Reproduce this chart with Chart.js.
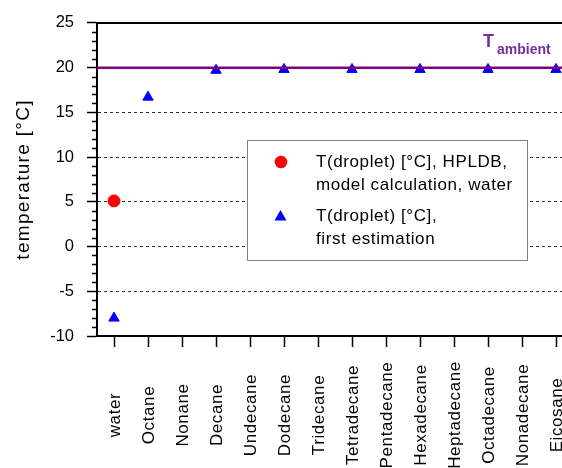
<!DOCTYPE html>
<html><head><meta charset="utf-8">
<script src="https://cdn.jsdelivr.net/npm/chart.js@4.4.1/dist/chart.umd.min.js"></script>
<style>html,body{margin:0;padding:0;overflow:hidden;background:#fff;width:562px;height:468px}canvas{display:block}</style>
</head><body><canvas id="c" width="580" height="468"></canvas>
<script>
const categories = ['water','Octane','Nonane','Decane','Undecane','Dodecane','Tridecane','Tetradecane','Pentadecane','Hexadecane','Heptadecane','Octadecane','Nonadecane','Eicosane'];
const dropletHPLDB = [5.1, null, null, null, null, null, null, null, null, null, null, null, null, null];
const dropletEstimate = [-8, 16.7, null, 19.7, null, 19.8, null, 19.8, null, 19.8, null, 19.8, null, 19.8];
const ambientTemperature = 20;
const yMin = -10, yMax = 25, yStep = 5, yMinorStep = 1;
const yTitle = 'temperature [°C]';
const legendLabels = [['T(droplet) [°C], HPLDB,', 'model calculation, water'], ['T(droplet) [°C],', 'first estimation']];
const ambientLabel = ['T', 'ambient'];

const FAMILY = "'Liberation Sans', Arial, sans-serif";
const RED = '#ff0000', BLUE = '#0000ff', PURPLE_LINE = '#800080', PURPLE_TEXT = '#7030a0';

const decor = {
  id: 'decor',
  beforeDraw(chart) {
    chart.ctx.letterSpacing = '0px';
  },
  afterDatasetsDraw(chart) {
    const {ctx, chartArea: a, scales: {x, y}} = chart;
    ctx.save();
    // top border
    ctx.strokeStyle = '#000'; ctx.lineWidth = 2;
    ctx.beginPath(); ctx.moveTo(a.left - 1, a.top); ctx.lineTo(a.right, a.top); ctx.stroke();
    // ambient line
    const ya = y.getPixelForValue(ambientTemperature);
    ctx.strokeStyle = PURPLE_LINE; ctx.lineWidth = 2.5;
    ctx.beginPath(); ctx.moveTo(a.left, ya); ctx.lineTo(a.right, ya); ctx.stroke();
    // ambient label
    ctx.fillStyle = PURPLE_TEXT; ctx.textAlign = 'left'; ctx.textBaseline = 'alphabetic';
    ctx.font = 'bold 18px ' + FAMILY;
    ctx.fillText(ambientLabel[0], 483, ya - 21);
    ctx.font = 'bold 14px ' + FAMILY;
    ctx.fillText(ambientLabel[1], 497, ya - 14);
    // minor ticks on y
    ctx.strokeStyle = '#000'; ctx.lineWidth = 1.5;
    for (let v = yMin; v <= yMax; v += yMinorStep) {
      if (v % yStep === 0) continue;
      const py = Math.round(y.getPixelForValue(v)) + 0.5;
      ctx.beginPath(); ctx.moveTo(a.left - 5, py); ctx.lineTo(a.left, py); ctx.stroke();
    }
    // legend
    const bx = 247.5, by = 140.5, bw = 280, bh = 120;
    ctx.fillStyle = '#fff'; ctx.fillRect(bx, by, bw, bh);
    ctx.strokeStyle = '#808080'; ctx.lineWidth = 1; ctx.strokeRect(bx, by, bw, bh);
    ctx.fillStyle = RED;
    ctx.beginPath(); ctx.arc(281, 162, 6.3, 0, Math.PI * 2); ctx.fill();
    ctx.fillStyle = BLUE;
    ctx.beginPath(); ctx.moveTo(280.5, 210); ctx.lineTo(286.5, 220.5); ctx.lineTo(274.5, 220.5); ctx.closePath(); ctx.fill();
    ctx.fillStyle = '#000'; ctx.font = '17px ' + FAMILY; ctx.letterSpacing = '0.6px';
    ctx.textBaseline = 'middle';
    const rows = [162, 216];
    legendLabels.forEach((lines, i) => {
      lines.forEach((t, j) => ctx.fillText(t, 316, rows[i] + j * 23));
    });
    ctx.restore();
  },
  afterDraw(chart) {
    const {ctx, chartArea: a, scales: {x}} = chart;
    ctx.save();
    ctx.fillStyle = '#000'; ctx.font = '17px ' + FAMILY; ctx.letterSpacing = '0.6px';
    ctx.textAlign = 'center'; ctx.textBaseline = 'middle';
    categories.forEach((c, i) => {
      const px = x.getPixelForValue(i);
      ctx.save(); ctx.translate(px + 1, a.bottom + 79); ctx.rotate(-Math.PI / 2);
      ctx.fillText(c, 0, 0); ctx.restore();
    });
    // y title
    ctx.font = '19px ' + FAMILY; ctx.letterSpacing = '1.3px';
    ctx.save(); ctx.translate(24, (a.top + a.bottom) / 2); ctx.rotate(-Math.PI / 2);
    ctx.fillText(yTitle, 0, 0); ctx.restore();
    ctx.restore();
  }
};

new Chart(document.getElementById('c'), {
  type: 'line',
  data: {
    labels: categories,
    datasets: [
      { label: legendLabels[0].join(' '), data: dropletHPLDB, showLine: false, pointStyle: 'circle', pointRadius: 6, pointBorderWidth: 1, backgroundColor: RED, borderColor: RED },
      { label: legendLabels[1].join(' '), data: dropletEstimate, showLine: false, pointStyle: 'triangle', pointRadius: 6, pointBorderWidth: 1, backgroundColor: BLUE, borderColor: BLUE }
    ]
  },
  options: {
    responsive: false, animation: false,
    layout: { padding: { left: 0, top: 20, right: 2, bottom: 0 } },
    plugins: { legend: { display: false }, tooltip: { enabled: false } },
    scales: {
      x: {
        type: 'category', offset: true,
        grid: { display: true, drawOnChartArea: false, drawTicks: true, tickLength: 11, offset: false, tickColor: '#000', tickWidth: 1.5 },
        border: { display: true, color: '#000', width: 2 },
        ticks: { display: false },
        afterFit(s) { s.height = 132; }
      },
      y: {
        min: yMin, max: yMax,
        ticks: { stepSize: yStep, color: '#000', padding: 13, font: { family: FAMILY, size: 16.5 } },
        grid: {
          color: c => (c.tick && c.tick.value > yMin && c.tick.value < ambientTemperature) ? '#333' : 'rgba(0,0,0,0)',
          lineWidth: 1, tickLength: 10, tickColor: '#000', tickWidth: 1.5, tickBorderDash: []
        },
        border: { display: true, color: '#000', width: 2, dash: [3, 3] },
        afterFit(s) { s.width = 97; }
      }
    }
  },
  plugins: [decor]
});
</script>
</body></html>
